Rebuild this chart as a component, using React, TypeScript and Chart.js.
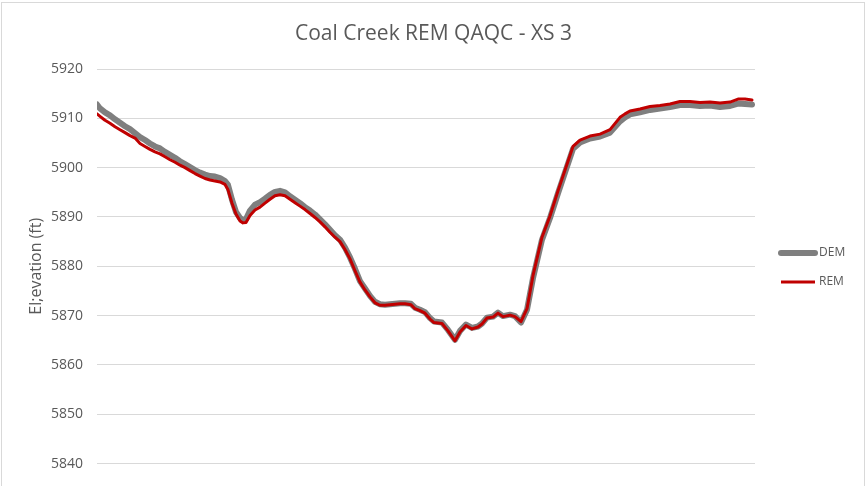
import React, { useEffect, useRef } from "react";
import { Chart, registerables } from "chart.js";

Chart.register(...registerables);

// Distance along the cross-section (arbitrary units)
const stations = [
  0, 3, 8, 13, 18, 23, 28, 33, 38, 43, 48, 53, 58, 63, 68, 73, 78, 83, 88, 93,
  98, 103, 108, 113, 118, 123, 128, 131, 135, 139, 143, 146, 149, 153, 158, 163, 168, 173, 178, 183,
  188, 193, 198, 203, 208, 213, 218, 223, 228, 233, 238, 243, 248, 253, 258, 263, 268, 273, 278, 283,
  288, 293, 298, 303, 308, 314, 318, 323, 328, 333, 337, 345, 351, 358, 363, 369, 375, 381, 385, 390,
  396, 401, 406, 413, 418, 424, 430, 436, 445, 453, 461, 470, 476, 483, 493, 503, 513, 523, 528, 533,
  543, 553, 563, 573, 583, 593, 603, 613, 623, 633, 641, 648, 655,
];

const demValues = [
  5912.8, 5912.0, 5911.2, 5910.6, 5909.8, 5909.1, 5908.4, 5907.8, 5907.0, 5906.2,
  5905.6, 5904.9, 5904.3, 5903.9, 5903.2, 5902.6, 5902.0, 5901.3, 5900.7, 5900.1,
  5899.5, 5899.0, 5898.6, 5898.3, 5898.2, 5897.9, 5897.3, 5896.5, 5893.5, 5891.0,
  5889.8, 5889.4, 5889.6, 5891.3, 5892.5, 5893.0, 5893.7, 5894.5, 5895.1, 5895.3,
  5895.0, 5894.2, 5893.5, 5892.8, 5892.0, 5891.3, 5890.5, 5889.5, 5888.5, 5887.4,
  5886.3, 5885.4, 5883.8, 5881.8, 5879.5, 5877.0, 5875.5, 5874.0, 5872.8, 5872.3,
  5872.2, 5872.3, 5872.4, 5872.5, 5872.5, 5872.4, 5871.6, 5871.2, 5870.7, 5869.5,
  5868.8, 5868.6, 5867.1, 5865.1, 5866.9, 5868.2, 5867.5, 5867.8, 5868.4, 5869.6,
  5869.8, 5870.6, 5869.9, 5870.2, 5869.9, 5868.6, 5871.2, 5877.6, 5885.4, 5889.8,
  5894.8, 5900.2, 5903.8, 5905.1, 5905.9, 5906.3, 5907.1, 5909.4, 5910.2, 5910.8,
  5911.2, 5911.7, 5912.0, 5912.3, 5912.7, 5912.7, 5912.5, 5912.6, 5912.3, 5912.5,
  5913.0, 5912.9, 5912.8,
];

const remValues = [
  5910.9, 5910.4, 5909.6, 5909.0, 5908.3, 5907.7, 5907.1, 5906.5, 5906.0, 5904.9,
  5904.3, 5903.7, 5903.2, 5902.8, 5902.2, 5901.6, 5901.1, 5900.5, 5900.0, 5899.4,
  5898.8, 5898.3, 5897.8, 5897.5, 5897.3, 5897.1, 5896.6, 5895.5, 5892.8, 5890.6,
  5889.2, 5888.8, 5888.9, 5890.3, 5891.4, 5892.0, 5892.8, 5893.6, 5894.3, 5894.5,
  5894.3, 5893.6, 5892.9, 5892.2, 5891.5, 5890.7, 5889.9, 5889.0, 5888.0, 5886.9,
  5885.9, 5885.0, 5883.4, 5881.5, 5879.1, 5876.8, 5875.2, 5873.8, 5872.6, 5872.1,
  5872.1, 5872.2, 5872.3, 5872.4, 5872.4, 5872.2, 5871.4, 5871.0, 5870.5, 5869.3,
  5868.6, 5868.4, 5866.9, 5864.9, 5866.7, 5868.0, 5867.3, 5867.7, 5868.3, 5869.5,
  5869.7, 5870.5, 5869.8, 5870.1, 5869.8, 5868.8, 5871.4, 5878.1, 5885.9, 5890.2,
  5895.3, 5900.7, 5904.3, 5905.6, 5906.4, 5906.8, 5907.7, 5910.2, 5910.9, 5911.5,
  5911.9, 5912.4, 5912.6, 5912.9, 5913.4, 5913.4, 5913.2, 5913.3, 5913.1, 5913.3,
  5913.9, 5913.9, 5913.7,
];

const seriesNames = ["DEM", "REM"];
const chartTitle = "Coal Creek REM QAQC - XS 3";
const yAxisTitle = "El;evation (ft)";
const yMin = 5840;
const yMax = 5920;
const yStep = 10;

const TEXT = "#595959";
const GRID = "#d9d9d9";
const DEM_COLOR = "#7f7f7f";
const REM_COLOR = "#c00000";
const FONT = "'Open Sans', 'DejaVu Sans', sans-serif";

const framePlugin = {
  id: "frame",
  beforeDraw(chart: any) {
    const ctx = chart.ctx;
    ctx.save();
    ctx.fillStyle = "#ffffff";
    ctx.fillRect(0, 0, chart.width, chart.height);
    ctx.strokeStyle = GRID;
    ctx.lineWidth = 1;
    ctx.strokeRect(1.5, 2.5, 863, chart.height + 10);
    ctx.restore();
  },
};

const legendPlugin = {
  id: "sideLegend",
  afterDraw(chart: any) {
    const ctx = chart.ctx;
    const x0 = chart.chartArea.right + 26;
    const entries = [
      { label: seriesNames[0], color: DEM_COLOR, width: 6, cap: "round", y: 253 },
      { label: seriesNames[1], color: REM_COLOR, width: 3, cap: "butt", y: 282 },
    ];
    ctx.save();
    for (const e of entries) {
      ctx.beginPath();
      ctx.strokeStyle = e.color;
      ctx.lineWidth = e.width;
      ctx.lineCap = e.cap;
      ctx.moveTo(x0, e.y);
      ctx.lineTo(x0 + 34, e.y);
      ctx.stroke();
      ctx.fillStyle = TEXT;
      ctx.font = `12px ${FONT}`;
      ctx.textBaseline = "middle";
      ctx.textAlign = "left";
      ctx.fillText(e.label, x0 + 38, e.y);
    }
    ctx.restore();
  },
};

export default function App() {
  const ref = useRef<HTMLCanvasElement | null>(null);

  useEffect(() => {
    document.body.style.margin = "0";
    if (!ref.current) return;
    const dem = stations.map((s, i) => ({ x: s, y: demValues[i] }));
    const rem = stations.map((s, i) => ({ x: s, y: remValues[i] }));
    const chart = new Chart(ref.current, {
      type: "line",
      data: {
        datasets: [
          {
            label: seriesNames[0],
            data: dem,
            borderColor: DEM_COLOR,
            backgroundColor: DEM_COLOR,
            borderWidth: 6,
            pointRadius: 0,
            tension: 0,
            borderJoinStyle: "round",
            borderCapStyle: "round",
            order: 2,
          },
          {
            label: seriesNames[1],
            data: rem,
            borderColor: REM_COLOR,
            backgroundColor: REM_COLOR,
            borderWidth: 3,
            pointRadius: 0,
            tension: 0,
            borderJoinStyle: "round",
            borderCapStyle: "round",
            order: 1,
          },
        ],
      },
      options: {
        responsive: false,
        animation: false,
        layout: { padding: { top: 0, left: 0, right: 0, bottom: 20 } },
        plugins: {
          legend: { display: false },
          tooltip: { enabled: false },
          title: {
            display: true,
            text: chartTitle,
            color: TEXT,
            font: { family: FONT, size: 21, weight: "normal" },
            padding: { top: 21, bottom: 22.8 },
          },
        },
        scales: {
          x: {
            type: "linear",
            display: false,
            min: 0,
            max: 658,
          },
          y: {
            min: yMin,
            max: yMax,
            afterFit(scale: any) {
              scale.width = 97;
            },
            ticks: {
              stepSize: yStep,
              color: TEXT,
              padding: 14,
              font: { family: FONT, size: 14 },
              callback: (v: any) => String(v),
            },
            grid: { color: GRID, lineWidth: 1, drawTicks: false },
            border: { display: false },
            title: {
              display: true,
              text: yAxisTitle,
              color: TEXT,
              font: { family: FONT, size: 16 },
              padding: { top: 27, bottom: 0 },
            },
          },
          legendSpace: {
            type: "linear",
            position: "right",
            display: true,
            min: yMin,
            max: yMax,
            afterFit(scale: any) {
              scale.width = 112;
            },
            ticks: { display: false },
            grid: { display: false, drawTicks: false },
            border: { display: false },
          },
        },
      },
      plugins: [framePlugin, legendPlugin],
    });
    return () => chart.destroy();
  }, []);

  return <canvas ref={ref} width={867} height={486} style={{ display: "block" }} />;
}
